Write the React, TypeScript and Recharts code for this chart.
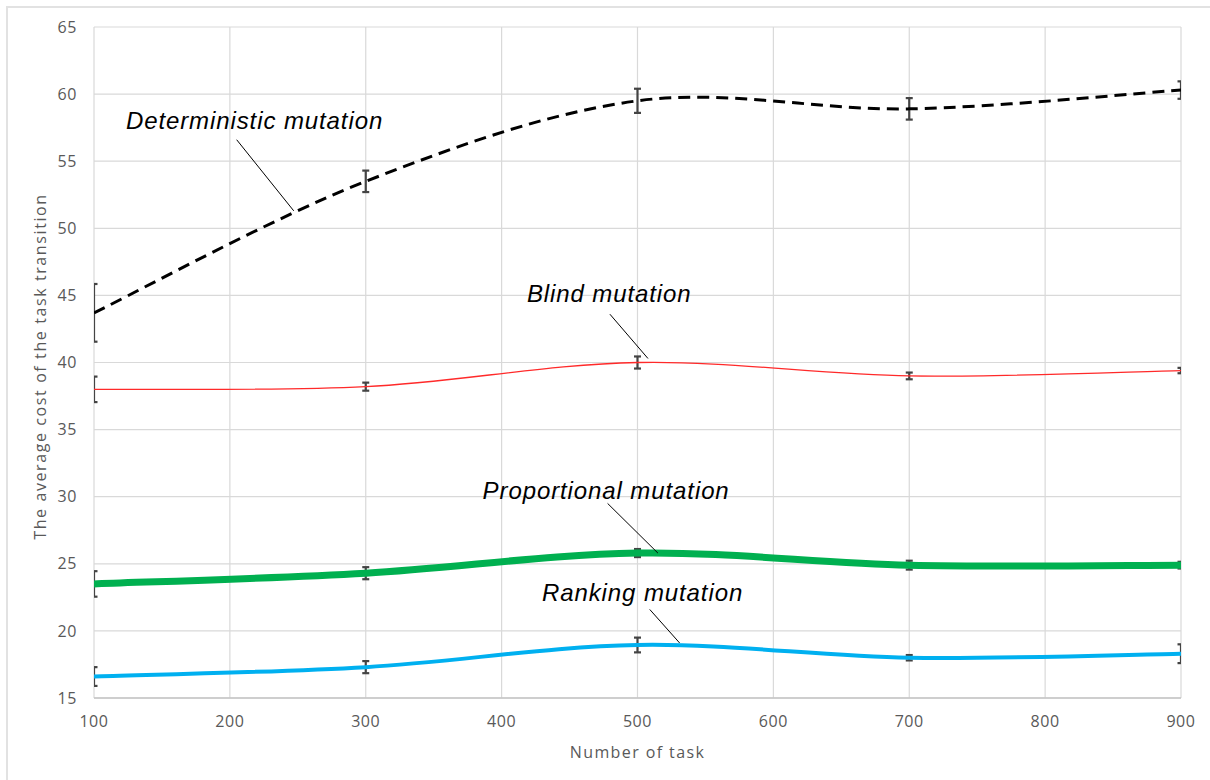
import React from 'react';
import { LineChart, Line, XAxis, YAxis, CartesianGrid, ErrorBar, ReferenceLine, ReferenceDot } from 'recharts';

const tasks = [100, 300, 500, 700, 900];
const deterministic = [43.7, 53.5, 59.5, 58.9, 60.3];
const deterministicErr = [2.15, 0.8, 0.9, 0.8, 0.65];
const blind = [38.0, 38.2, 40.0, 39.0, 39.4];
const blindErr = [0.95, 0.3, 0.45, 0.25, 0.2];
const proportional = [23.5, 24.3, 25.8, 24.9, 24.9];
const proportionalErr = [0.95, 0.45, 0.3, 0.33, 0.25];
const ranking = [16.6, 17.3, 18.95, 18.0, 18.3];
const rankingErr = [0.7, 0.45, 0.55, 0.2, 0.7];

const xTicks = [100, 200, 300, 400, 500, 600, 700, 800, 900];
const yTicks = [15, 20, 25, 30, 35, 40, 45, 50, 55, 60, 65];

const annotationTexts = ['Deterministic mutation', 'Blind mutation', 'Proportional mutation', 'Ranking mutation'];
// label anchor (data coords) and leader line (data coords)
const annotationLabelX = [123.5, 418.6, 386, 429.7];
const annotationLabelY = [57.4, 44.5, 29.85, 22.2];
const leaderFromX = [205, 479.7, 478, 509];
const leaderFromY = [56.6, 43.6, 29.5, 21.6];
const leaderToX = [247, 507.7, 515, 531];
const leaderToY = [51.3, 40.3, 25.8, 19.1];

const rows = tasks.map((t, i) => ({
  task: t,
  det: deterministic[i],
  detErr: deterministicErr[i],
  blind: blind[i],
  blindErr: blindErr[i],
  prop: proportional[i],
  propErr: proportionalErr[i],
  rank: ranking[i],
  rankErr: rankingErr[i],
}));

// Excel-like smoothed curve (Catmull-Rom / cardinal with tension 0)
const smoothCurve = (context: any) => {
  let pts: number[][] = [];
  return {
    areaStart() {},
    areaEnd() {},
    lineStart() {
      pts = [];
    },
    point(x: number, y: number) {
      pts.push([+x, +y]);
    },
    lineEnd() {
      const n = pts.length;
      if (!n) return;
      context.moveTo(pts[0][0], pts[0][1]);
      for (let i = 0; i < n - 1; i++) {
        const p0 = pts[Math.max(i - 1, 0)];
        const p1 = pts[i];
        const p2 = pts[i + 1];
        const p3 = pts[Math.min(i + 2, n - 1)];
        context.bezierCurveTo(
          p1[0] + (p2[0] - p0[0]) / 6,
          p1[1] + (p2[1] - p0[1]) / 6,
          p2[0] - (p3[0] - p1[0]) / 6,
          p2[1] - (p3[1] - p1[1]) / 6,
          p2[0],
          p2[1]
        );
      }
    },
  };
};

const axisFont = '"Open Sans", "Noto Sans", sans-serif';
const annFont = '"Liberation Sans", Arial, sans-serif';
const errColor = '#444444';

export default function App() {
  return (
    <div
      style={{
        position: 'absolute',
        left: 0,
        top: 0,
        width: 1210,
        height: 780,
        background: '#ffffff',
        overflow: 'hidden',
      }}
    >
      <style>{`.recharts-errorBars { clip-path: url(#clipPath-detLine); }`}</style>
      <div
        style={{
          position: 'absolute',
          left: 6,
          top: 6,
          width: 1220,
          height: 800,
          borderTop: '2px solid #e2e2e2',
          borderLeft: '2px solid #e2e2e2',
        }}
      />
      <div style={{ position: 'absolute', left: 0, top: 0 }}>
        <LineChart width={1210} height={780} data={rows} margin={{ top: 27, right: 29, bottom: 0, left: 0 }}>
          <CartesianGrid stroke="#d9d9d9" strokeWidth={1.2} horizontalValues={yTicks} verticalValues={xTicks} />
          <XAxis
            dataKey="task"
            type="number"
            domain={[100, 900]}
            ticks={xTicks}
            allowDataOverflow
            height={82}
            tickLine={false}
            tickSize={0}
            tickMargin={18}
            axisLine={{ stroke: '#c4c4c4', strokeWidth: 1.5 }}
            tick={{ fill: '#595959', fontSize: 16, fontFamily: axisFont, letterSpacing: 0.6 }}
            label={{
              content: (props: any) => {
                const vb = props.viewBox;
                return (
                  <text
                    x={vb.x + vb.width / 2}
                    y={vb.y + 60}
                    textAnchor="middle"
                    fill="#595959"
                    fontSize={16}
                    letterSpacing={1.4}
                    fontFamily={axisFont}
                  >
                    Number of task
                  </text>
                );
              },
            }}
          />
          <YAxis
            type="number"
            domain={[15, 65]}
            ticks={yTicks}
            allowDataOverflow
            width={94}
            axisLine={false}
            tickLine={false}
            tickSize={0}
            tickMargin={17}
            tick={{ fill: '#595959', fontSize: 16, fontFamily: axisFont, letterSpacing: 0.6 }}
            label={{
              content: (props: any) => {
                const vb = props.viewBox;
                const cx = vb.x + 46;
                const cy = vb.y + vb.height / 2 + 4;
                return (
                  <text
                    x={cx}
                    y={cy}
                    transform={`rotate(-90, ${cx}, ${cy})`}
                    textAnchor="middle"
                    fill="#595959"
                    fontSize={16}
                    letterSpacing={1.6}
                    fontFamily={axisFont}
                  >
                    The average cost of the task transition
                  </text>
                );
              },
            }}
          />
          <Line
            id="detLine"
            dataKey="det"
            type={smoothCurve as any}
            stroke="#000000"
            strokeWidth={3}
            strokeDasharray="12 7"
            dot={false}
            activeDot={false}
            isAnimationActive={false}
          >
            <ErrorBar dataKey="detErr" direction="y" width={3.5} stroke={errColor} strokeWidth={2.2} isAnimationActive={false} />
          </Line>
          <Line
            id="blindLine"
            dataKey="blind"
            type={smoothCurve as any}
            stroke="#ff2a2a"
            strokeWidth={1.3}
            dot={false}
            activeDot={false}
            isAnimationActive={false}
          >
            <ErrorBar dataKey="blindErr" direction="y" width={3.5} stroke={errColor} strokeWidth={2.2} isAnimationActive={false} />
          </Line>
          <Line
            id="propLine"
            dataKey="prop"
            type={smoothCurve as any}
            stroke="#00b050"
            strokeWidth={7}
            dot={false}
            activeDot={false}
            isAnimationActive={false}
          >
            <ErrorBar dataKey="propErr" direction="y" width={3.5} stroke={errColor} strokeWidth={2.2} isAnimationActive={false} />
          </Line>
          <Line
            id="rankLine"
            dataKey="rank"
            type={smoothCurve as any}
            stroke="#00b0f0"
            strokeWidth={4}
            dot={false}
            activeDot={false}
            isAnimationActive={false}
          >
            <ErrorBar dataKey="rankErr" direction="y" width={3.5} stroke={errColor} strokeWidth={2.2} isAnimationActive={false} />
          </Line>
          {annotationTexts.map((t, i) => (
            <ReferenceLine
              key={'l' + i}
              segment={[
                { x: leaderFromX[i], y: leaderFromY[i] },
                { x: leaderToX[i], y: leaderToY[i] },
              ]}
              stroke="#000000"
              strokeWidth={1}
            />
          ))}
          {annotationTexts.map((t, i) => (
            <ReferenceDot
              key={'t' + i}
              x={annotationLabelX[i]}
              y={annotationLabelY[i]}
              r={0}
              fill="none"
              stroke="none"
              label={{
                content: (props: any) => {
                  const vb = props.viewBox;
                  return (
                    <text
                      x={vb.x}
                      y={vb.y}
                      textAnchor="start"
                      fill="#000000"
                      fontSize={24}
                      letterSpacing={0.9}
                      fontStyle="italic"
                      fontFamily={annFont}
                    >
                      {t}
                    </text>
                  );
                },
              }}
            />
          ))}
        </LineChart>
      </div>
    </div>
  );
}
